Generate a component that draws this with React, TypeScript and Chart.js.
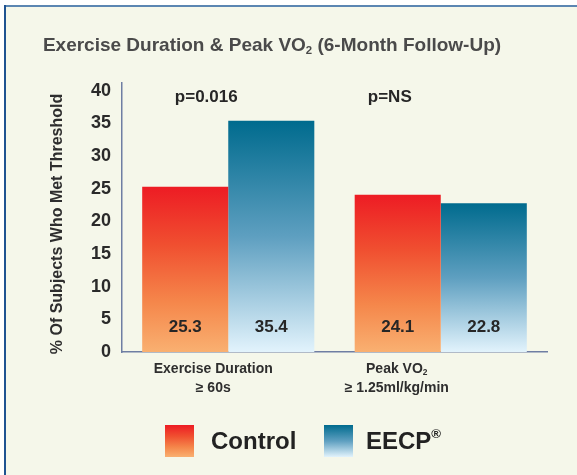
import React, { useEffect, useRef } from "react";
import { Chart, registerables } from "chart.js";

Chart.register(...registerables);

// ---------- data ----------
const categories = ["Exercise Duration\n≥ 60s", "Peak VO₂\n≥ 1.25ml/kg/min"];
const seriesNames = ["Control", "EECP®"];
const controlValues = [25.3, 24.1];
const eecpValues = [35.4, 22.8];
const pLabels = ["p=0.016", "p=NS"];
const yMin = 0;
const yMax = 41.2;
const yTickValues = [0, 5, 10, 15, 20, 25, 30, 35, 40];
const titleText = "Exercise Duration & Peak VO₂ (6-Month Follow-Up)";
const yTitleText = "% Of Subjects Who Met Threshold";

// ---------- styles ----------
const FONT = "'Liberation Sans', Arial, sans-serif";
const controlStops: [number, string][] = [
  [0, "#ed1c24"],
  [0.35, "#f04f30"],
  [0.7, "#f5874b"],
  [1, "#f9b071"],
];
const eecpStops: [number, string][] = [
  [0, "#006b8e"],
  [0.5, "#5e9fc0"],
  [1, "#e2f3fc"],
];
const axisColor = "#6f7ea3";

function makeGradient(ctx: CanvasRenderingContext2D, top: number, bottom: number, stops: [number, string][]) {
  const g = ctx.createLinearGradient(0, top, 0, bottom);
  stops.forEach(([o, c]) => g.addColorStop(o, c));
  return g;
}

type Seg = { t: string; scale: number; dy: number };
function segments(text: string): Seg[] {
  const out: Seg[] = [];
  for (const ch of text) {
    if (ch === "₂") out.push({ t: "2", scale: 0.6, dy: 0.25 });
    else if (ch === "®") out.push({ t: "®", scale: 0.55, dy: -0.3 });
    else {
      const last = out[out.length - 1];
      if (last && last.scale === 1) last.t += ch;
      else out.push({ t: ch, scale: 1, dy: 0 });
    }
  }
  return out;
}

function drawRich(
  ctx: CanvasRenderingContext2D,
  text: string,
  x: number,
  y: number,
  size: number,
  color: string,
  align: "left" | "center"
) {
  const segs = segments(text);
  let total = 0;
  const widths = segs.map((s) => {
    ctx.font = `bold ${size * s.scale}px ${FONT}`;
    const w = ctx.measureText(s.t).width;
    total += w;
    return w;
  });
  let cx = align === "center" ? x - total / 2 : x;
  ctx.fillStyle = color;
  ctx.textAlign = "left";
  segs.forEach((s, i) => {
    ctx.font = `bold ${size * s.scale}px ${FONT}`;
    ctx.fillText(s.t, cx, y + s.dy * size);
    cx += widths[i];
  });
}

const decorPlugin = {
  id: "decor",
  beforeDraw(chart: any) {
    const { ctx, width, height } = chart;
    ctx.save();
    ctx.fillStyle = "#ffffff";
    ctx.fillRect(0, 0, width, height);
    ctx.fillStyle = "#f5f7ea";
    ctx.fillRect(4, 5, width - 4, height - 5);
    ctx.fillStyle = "#5b86b2";
    ctx.fillRect(4, 5, width - 4, 2);
    ctx.fillStyle = "#1f5391";
    ctx.fillRect(4, 5, 2, height - 5);
    ctx.restore();
  },
  afterDatasetsDraw(chart: any) {
    const { ctx, scales } = chart;
    const x = scales.x;
    const y = scales.y;
    const base = y.getPixelForValue(0);
    ctx.save();
    ctx.textBaseline = "middle";

    // values inside bars
    const all = [controlValues, eecpValues];
    chart.data.datasets.forEach((_: any, di: number) => {
      const meta = chart.getDatasetMeta(di);
      meta.data.forEach((bar: any, i: number) => {
        ctx.font = `bold 17px ${FONT}`;
        ctx.fillStyle = "#262626";
        ctx.textAlign = "center";
        ctx.fillText(all[di][i].toFixed(1), bar.x, base - 25);
      });
    });

    // p-values
    const pOffsets = [-22, -51];
    pLabels.forEach((p, i) => {
      drawRich(ctx, p, x.getPixelForValue(i) + pOffsets[i], 97, 17, "#262626", "center");
    });

    // category labels
    const cOffsets = [-15, -44];
    categories.forEach((c, i) => {
      c.split("\n").forEach((line, li) => {
        drawRich(ctx, line, x.getPixelForValue(i) + cOffsets[i], 369 + li * 19, 14, "#2e2e2e", "center");
      });
    });

    // title
    drawRich(ctx, titleText, 272, 46, 19, "#4a4a4a", "center");

    // y title
    ctx.save();
    ctx.translate(58, 224);
    ctx.rotate(-Math.PI / 2);
    drawRich(ctx, yTitleText, 0, 0, 16, "#2e2e2e", "center");
    ctx.restore();

    // legend
    const legend = [
      { name: seriesNames[0], stops: controlStops, bx: 165, tx: 211 },
      { name: seriesNames[1], stops: eecpStops, bx: 324, tx: 366 },
    ];
    legend.forEach((l) => {
      ctx.fillStyle = makeGradient(ctx, 425, 457, l.stops);
      ctx.fillRect(l.bx, 425, 29, 32);
      drawRich(ctx, l.name, l.tx, 442, 24, "#222222", "left");
    });

    ctx.restore();
  },
};

function barGradient(stops: [number, string][]) {
  return (c: any) => {
    const chart = c.chart;
    if (!chart.chartArea || c.raw == null) return stops[0][1];
    const ys = chart.scales.y;
    const top = ys.getPixelForValue(c.raw);
    const bottom = ys.getPixelForValue(0);
    return makeGradient(chart.ctx, top, bottom, stops);
  };
}

export default function App() {
  const ref = useRef<HTMLCanvasElement | null>(null);
  useEffect(() => {
    document.body.style.margin = "0";
    const canvas = ref.current;
    if (!canvas) return;
    const chart = new Chart(canvas, {
      type: "bar",
      data: {
        labels: categories,
        datasets: [
          {
            label: seriesNames[0],
            data: controlValues,
            backgroundColor: barGradient(controlStops),
            borderWidth: 0,
          },
          {
            label: seriesNames[1],
            data: eecpValues,
            backgroundColor: barGradient(eecpStops),
            borderWidth: 0,
          },
        ],
      },
      options: {
        responsive: false,
        animation: false,
        devicePixelRatio: 1,
        layout: { padding: { left: 0, right: 30, top: 83, bottom: 123 } },
        datasets: { bar: { categoryPercentage: 0.81, barPercentage: 1 } },
        plugins: {
          legend: { display: false },
          title: { display: false },
          tooltip: { enabled: false },
        },
        scales: {
          x: {
            grid: { display: false, drawTicks: false },
            border: { display: true, color: axisColor, width: 1.5 },
            ticks: { display: false },
            afterFit: (s: any) => {
              s.height = 0;
            },
          },
          y: {
            min: yMin,
            max: yMax,
            grid: { display: false, drawTicks: false },
            border: { display: true, color: axisColor, width: 1.5 },
            ticks: {
              padding: 11,
              color: "#2a2a2a",
              font: { family: FONT, size: 18, weight: "bold" },
            },
            afterBuildTicks: (s: any) => {
              s.ticks = yTickValues.map((v) => ({ value: v }));
            },
            afterFit: (s: any) => {
              s.width = 122;
            },
          },
        },
      },
      plugins: [decorPlugin],
    } as any);
    return () => chart.destroy();
  }, []);
  return <canvas ref={ref} width={577} height={475} style={{ display: "block" }} />;
}
